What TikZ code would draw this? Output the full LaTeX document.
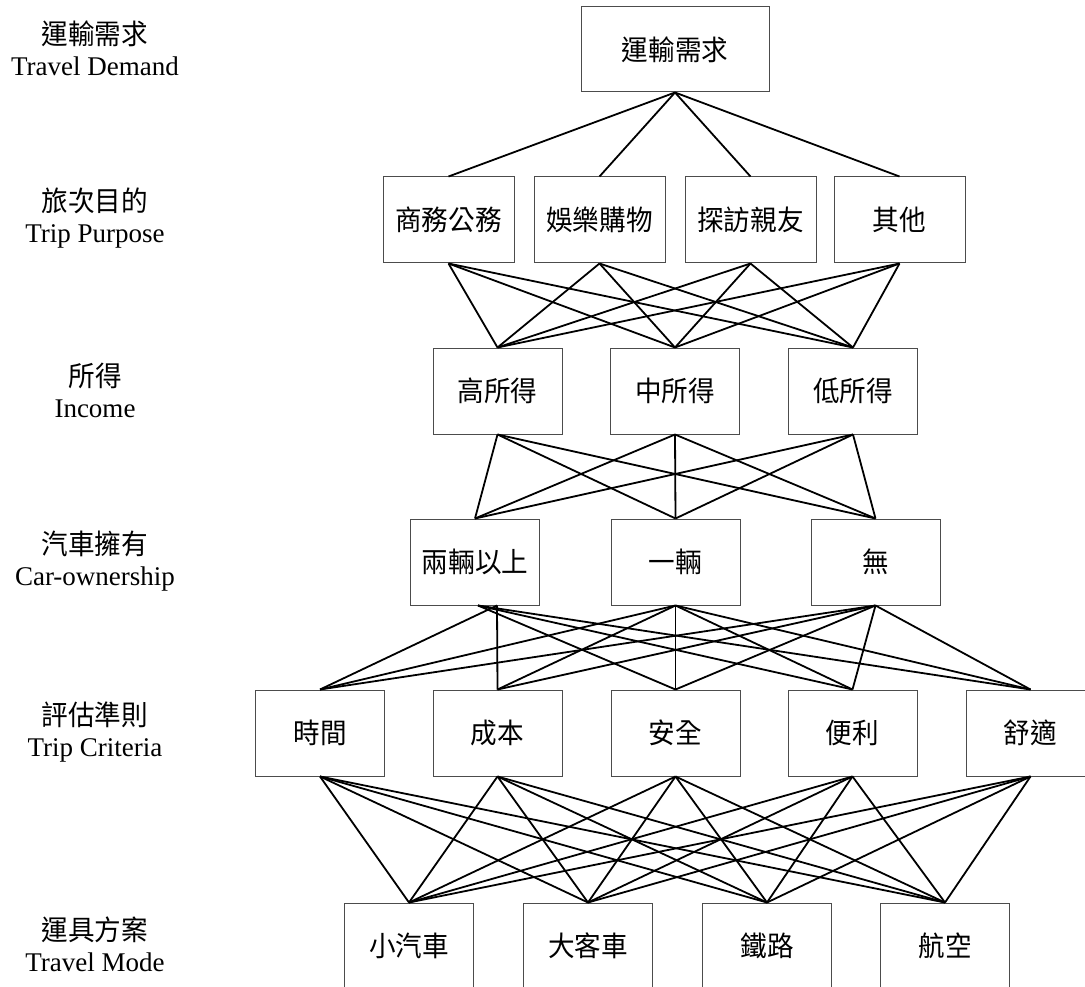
\documentclass[tikz,border=0pt]{standalone}
\usepackage{fontspec}
\setmainfont{Liberation Serif}
\newfontfamily\cjk[FakeStretch=0.95]{Noto Sans CJK TC}

\begin{document}
\begin{tikzpicture}[x=1pt, y=-1pt]
    	\tikzstyle{box}=[draw=black!70, line width=1pt, minimum width=129pt, minimum height=86pt, inner sep=0pt, font=\cjk\fontsize{28}{30}\selectfont];
    	\tikzstyle{level}=[align=center, font=\fontsize{27}{31}\selectfont];
    	\tikzstyle{link}=[line width=1.8pt];

    	\useasboundingbox (0, 0) rectangle (1085, 987);

    	% level names
   	\node[level] (l0) at (95, 48) {{\cjk\fontsize{28}{31}\selectfont 運輸需求}\\Travel Demand};
   	\node[level] (l1) at (95, 218) {{\cjk\fontsize{28}{31}\selectfont 旅次目的}\\Trip Purpose};
   	\node[level] (l2) at (95, 390) {{\cjk\fontsize{28}{31}\selectfont 所得}\\Income};
   	\node[level] (l3) at (95, 561) {{\cjk\fontsize{28}{31}\selectfont 汽車擁有}\\Car-ownership};
   	\node[level] (l4) at (95, 732) {{\cjk\fontsize{28}{31}\selectfont 評估準則}\\Trip Criteria};
   	\node[level] (l5) at (95, 944) {{\cjk\fontsize{28}{31}\selectfont 運具方案}\\Travel Mode};

   	\node[box, minimum width=188pt, minimum height=85pt] (d) at (675, 49.5) {運輸需求};

   	\node[box, minimum width=131pt] (p1) at (448.5, 220) {商務公務};
   	\node[box, minimum width=131pt] (p2) at (599.5, 220) {娛樂購物};
   	\node[box, minimum width=131pt] (p3) at (750.5, 220) {探訪親友};
   	\node[box, minimum width=131pt] (p4) at (899.5, 220) {其他};

   	\node[box] (i1) at (497.5, 391) {高所得};
   	\node[box] (i2) at (675, 391) {中所得};
   	\node[box] (i3) at (853, 391) {低所得};

   	\node[box] (c1) at (475, 562) {兩輛以上};
   	\node[box] (c2) at (675.5, 562) {一輛};
   	\node[box] (c3) at (875.5, 562) {無};

   	\node[box] (k1) at (320, 733) {時間};
   	\node[box] (k2) at (497.5, 733) {成本};
   	\node[box] (k3) at (675.5, 733) {安全};
   	\node[box] (k4) at (852.5, 733) {便利};
   	\node[box] (k5) at (1030.5, 733) {舒適};

   	\node[box] (m1) at (409, 946) {小汽車};
   	\node[box] (m2) at (588, 946) {大客車};
   	\node[box] (m3) at (767, 946) {鐵路};
   	\node[box] (m4) at (945, 946) {航空};

    	\foreach \j in {1,...,4} \draw[link] (d.south) -- (p\j.north);
    	\foreach \i in {1,...,4} \foreach \j in {1,2,3} \draw[link] (p\i.south) -- (i\j.north);
    	\foreach \i in {1,2,3} \foreach \j in {1,2,3} \draw[link] (i\i.south) -- (c\j.north);

    	% the left car box sends its lines from two points
   	\draw[link] ([xshift=22pt]c1.south) -- (k1.north);
   	\draw[link] ([xshift=22pt]c1.south) -- (k2.north);
    	\foreach \j in {3,4,5} \draw[link] ([xshift=3pt]c1.south) -- (k\j.north);
    	\foreach \i in {2,3} \foreach \j in {1,...,5} \draw[link] (c\i.south) -- (k\j.north);

    	\foreach \i in {1,...,5} \foreach \j in {1,...,4} \draw[link] (k\i.south) -- (m\j.north);

	\end{tikzpicture}
\end{document}
